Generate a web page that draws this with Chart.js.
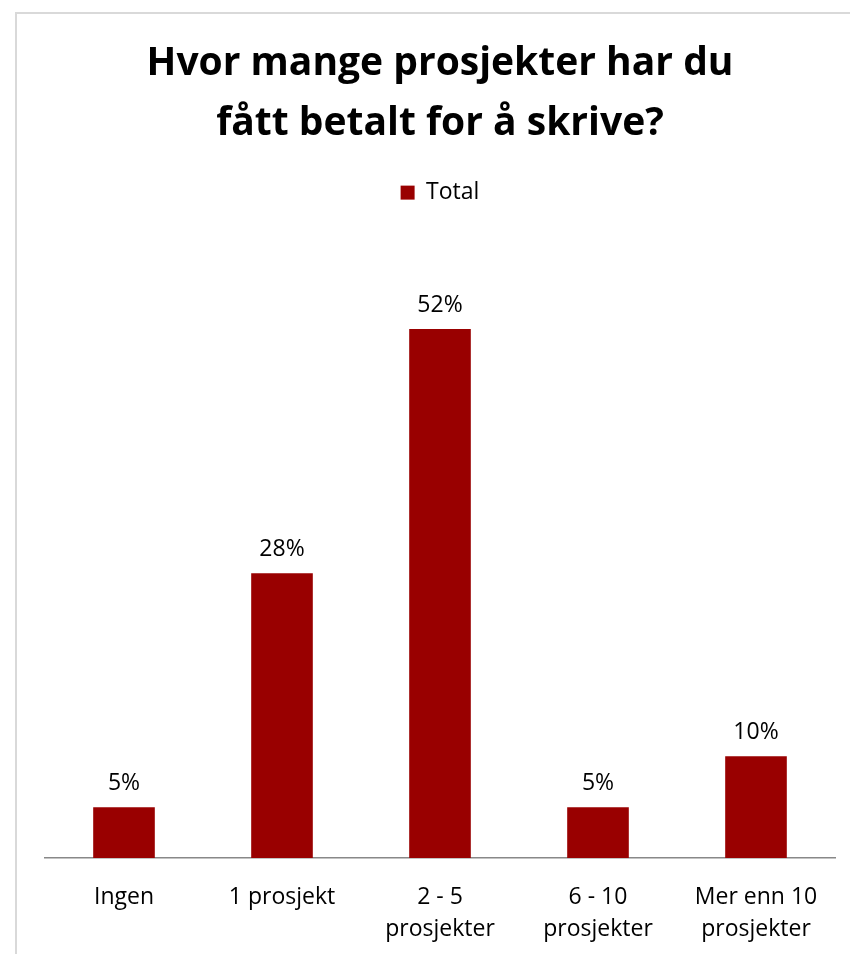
<!DOCTYPE html>
<html>
<head>
<meta charset="utf-8">
<script src="https://cdn.jsdelivr.net/npm/chart.js@4.4.0/dist/chart.umd.min.js"></script>
<style>
  html, body { margin: 0; padding: 0; background: #fff; }
  #wrap { position: relative; width: 850px; height: 954px; overflow: hidden; }
  #frame {
    position: absolute; left: 15px; top: 12px; width: 900px; height: 1000px;
    border-left: 2px solid #d9d9d9; border-top: 2px solid #d9d9d9;
    pointer-events: none;
  }
</style>
</head>
<body>
<div id="wrap">
  <canvas id="myChart" width="850" height="954"></canvas>
  <div id="frame"></div>
</div>
<script>
const categories = ['Ingen', '1 prosjekt', ['2 - 5', 'prosjekter'], ['6 - 10', 'prosjekter'], ['Mer enn 10', 'prosjekter']];
const totalValues = [5, 28, 52, 5, 10];
const seriesName = 'Total';

const FONT = '"Open Sans", Lato, sans-serif';

// draws the % value above each bar
const valueLabels = {
  id: 'valueLabels',
  afterDatasetsDraw(chart) {
    const ctx = chart.ctx;
    chart.data.datasets.forEach((ds, i) => {
      chart.getDatasetMeta(i).data.forEach((bar, j) => {
        ctx.save();
        ctx.font = '23px ' + FONT;
        ctx.fillStyle = '#000';
        ctx.textAlign = 'center';
        ctx.textBaseline = 'alphabetic';
        ctx.fillText(ds.data[j] + '%', bar.x, bar.y - 17);
        ctx.restore();
      });
    });
  }
};

const ctx = document.getElementById('myChart').getContext('2d');
const myChart = new Chart(ctx, {
  type: 'bar',
  data: {
    labels: categories,
    datasets: [
      {
        label: seriesName,
        data: totalValues,
        backgroundColor: '#990000',
        categoryPercentage: 1,
        barPercentage: 0.39,
      }
    ]
  },
  plugins: [valueLabels],
  options: {
    responsive: false,
    animation: false,
    layout: {
      padding: { left: 45, right: 15, top: 0, bottom: -6 }
    },
    plugins: {
      title: {
        display: true,
        text: ['Hvor mange prosjekter har du', 'fått betalt for å skrive?'],
        color: '#000',
        font: { family: FONT, size: 39, weight: 'bold', lineHeight: 1.54 },
        padding: { top: 34, bottom: 17 }
      },
      legend: {
        display: true,
        position: 'top',
        labels: {
          color: '#000',
          boxWidth: 14,
          boxHeight: 14,
          font: { family: FONT, size: 23 }
        }
      },
      tooltip: { enabled: false }
    },
    scales: {
      x: {
        grid: { display: false },
        border: { display: true, color: '#888', width: 1.5 },
        ticks: {
          color: '#000',
          padding: 15,
          font: { family: FONT, size: 23, lineHeight: 1.39 }
        }
      },
      y: {
        display: false,
        min: 0,
        max: 63.3
      }
    }
  }
});
</script>
</body>
</html>
